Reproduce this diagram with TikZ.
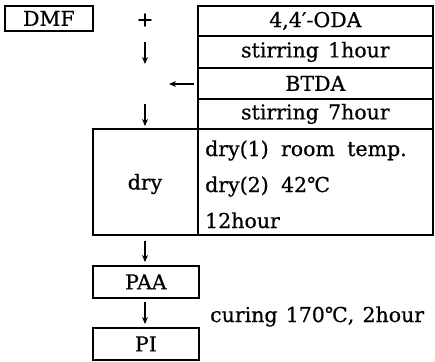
\documentclass[tikz,border=0pt]{standalone}
\usepackage{fontspec}
\setmainfont[FakeBold=0.6]{DejaVu Serif}
\usetikzlibrary{arrows.meta}
\begin{document}
\begin{tikzpicture}[x=1pt,y=-1pt,
  every node/.style={font=\fontsize{20.5}{22}\selectfont, inner sep=0pt},
  box/.style={draw, line width=1.8pt, rectangle, anchor=north west},
  cell/.style={draw, line width=1.8pt, rectangle, anchor=north west, minimum width=235pt},
  arr/.style={-{Stealth[length=7pt,width=6pt]}, line width=1.4pt},
  txt/.style={anchor=base west}]
\useasboundingbox (0,0) rectangle (435,361);
% DMF
\node[box, minimum width=88pt, minimum height=25pt] (dmf) at (4,5) {DMF};
\node (plus) at (145,20) {+};
% table
\node[cell, minimum height=30pt] (oda) at (197,5) {4,4′-ODA};
\node[cell, minimum height=32pt] (st1) at (197,35) {stirring\hspace{0.45em}1hour};
\node[cell, minimum height=31pt] (btda) at (197,67) {BTDA};
\node[cell, minimum height=30pt] (st7) at (197,98) {stirring\hspace{0.45em}7hour};
% dry block
\node[box, minimum width=105pt, minimum height=106pt] (dry) at (92,128) {};
\node (drytxt) at (145,184) {dry};
\node[box, minimum width=235pt, minimum height=106pt] (dryr) at (197,128) {};
\node[txt] (d1) at (205,156) {dry(1)\hspace{0.6em}room\hspace{0.6em}temp.};
\node[txt] (d2) at (205,192) {dry(2)\hspace{0.6em}42℃};
\node[txt] (d3) at (205,228) {12hour};
% products
\node[box, minimum width=106pt, minimum height=32pt] (paa) at (92,265) {PAA};
\node[box, minimum width=106pt, minimum height=32pt] (pi) at (92,327) {PI};
\node[txt] (cur) at (210,322) {curing\hspace{0.4em}170℃,\hspace{0.4em}2hour};
% arrows
\coordinate (a1s) at (145,42);
\coordinate (a1e) at (145,64);
\coordinate (a2s) at (145,104);
\coordinate (a2e) at (145,126);
\coordinate (lae) at (169,84);
\coordinate (lab) at (194,84);
\coordinate (a3s) at (145,241);
\coordinate (a3e) at (145,262);
\coordinate (a4s) at (145,302);
\coordinate (a4e) at (145,324);
\draw[arr] (a1s) -- (a1e);
\draw[arr] (lab) -- (lae);
\draw[arr] (a2s) -- (a2e);
\draw[arr] (a3s) -- (a3e);
\draw[arr] (a4s) -- (a4e);
\end{tikzpicture}
\end{document}
